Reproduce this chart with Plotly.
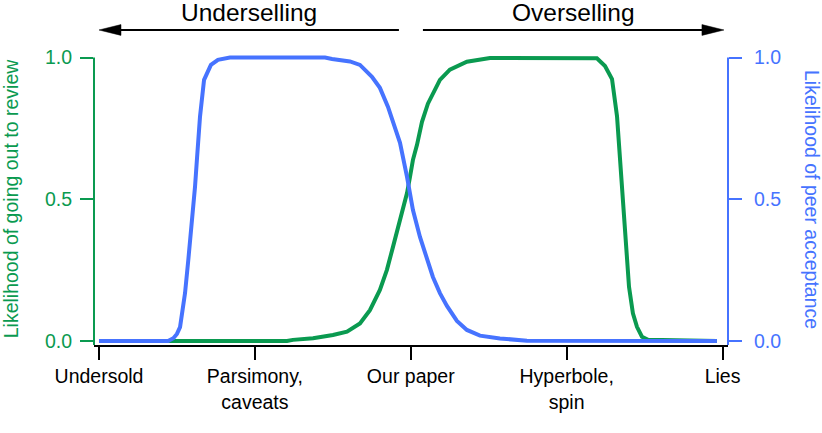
import plotly.graph_objects as go

# ---- data ----
categories = ["Undersold", "Parsimony,<br>caveats", "Our paper", "Hyperbole,<br>spin", "Lies"]
category_pos = [0, 1, 2, 3, 4]

# Likelihood of going out to review (left axis, green)
review_x = [0.0, 1.206, 1.244, 1.373, 1.501, 1.591, 1.674, 1.738, 1.802, 1.847, 1.886,
            1.931, 1.976, 1.995, 2.014, 2.040, 2.072, 2.110, 2.155, 2.187, 2.251, 2.360,
            2.508, 3.130, 3.194, 3.246, 3.291, 3.323, 3.342, 3.361, 3.387, 3.400, 3.425,
            3.451, 3.483, 3.522, 3.964]
review_y = [0.0, 0.0, 0.004, 0.010, 0.021, 0.033, 0.062, 0.109, 0.180, 0.251, 0.332,
            0.427, 0.522, 0.579, 0.639, 0.692, 0.773, 0.837, 0.886, 0.921, 0.957, 0.985,
            0.998, 1.0, 0.997, 0.970, 0.924, 0.793, 0.652, 0.476, 0.296, 0.191, 0.098,
            0.050, 0.015, 0.004, 0.0]

# Likelihood of peer acceptance (right axis, blue)
accept_x = [0.0, 0.443, 0.477, 0.500, 0.520, 0.532, 0.552, 0.573, 0.595, 0.616, 0.629,
            0.648, 0.674, 0.718, 0.763, 0.840, 1.450, 1.495, 1.610, 1.674, 1.751, 1.802,
            1.854, 1.911, 1.931, 1.976, 2.014, 2.059, 2.104, 2.142, 2.187, 2.232, 2.296,
            2.360, 2.444, 2.572, 2.745, 3.964]
accept_y = [0.0, 0.0, 0.010, 0.025, 0.049, 0.088, 0.169, 0.286, 0.402, 0.544, 0.646,
            0.791, 0.921, 0.974, 0.992, 1.0, 1.0, 0.995, 0.986, 0.974, 0.932, 0.893,
            0.826, 0.734, 0.699, 0.579, 0.462, 0.367, 0.286, 0.226, 0.169, 0.124, 0.071,
            0.039, 0.019, 0.009, 0.001, 0.0]

y_ticks = [0, 0.5, 1.0]
left_title = "Likelihood of going out to review"
right_title = "Likelihood of peer acceptance"
left_section = "Underselling"
right_section = "Overselling"

GREEN = "#0a9a50"
BLUE = "#4673ff"
FONT = "Liberation Sans, Arial, Helvetica, sans-serif"
FS = 19.5

x_range = [-0.032, 4.035]
y_range = [-0.0141, 1.0159]

fig = go.Figure()
fig.add_trace(go.Scatter(x=accept_x, y=accept_y, mode="lines", yaxis="y2",
                         line=dict(color=BLUE, width=4), showlegend=False, hoverinfo="skip"))
fig.add_trace(go.Scatter(x=review_x, y=review_y, mode="lines", yaxis="y",
                         line=dict(color=GREEN, width=4), showlegend=False, hoverinfo="skip"))

arrow_y = 1.0788
shapes = [
    # y-axis lines (stop at 1.0)
    dict(type="line", xref="paper", yref="y", x0=0, x1=0, y0=y_range[0], y1=1.0,
         line=dict(color=GREEN, width=2)),
    dict(type="line", xref="paper", yref="y", x0=1, x1=1, y0=y_range[0], y1=1.0,
         line=dict(color=BLUE, width=2)),
    # section arrows
    dict(type="line", xref="x", yref="paper", x0=1.924, x1=0.10, y0=arrow_y, y1=arrow_y,
         line=dict(color="black", width=2)),
    dict(type="path", xref="x", yref="paper", xsizemode="pixel", ysizemode="pixel",
         xanchor=0.0, yanchor=arrow_y, path="M0,0 L22,5.4 L22,-5.4 Z",
         fillcolor="black", line=dict(color="black", width=0.5)),
    dict(type="line", xref="x", yref="paper", x0=2.078, x1=3.90, y0=arrow_y, y1=arrow_y,
         line=dict(color="black", width=2)),
    dict(type="path", xref="x", yref="paper", xsizemode="pixel", ysizemode="pixel",
         xanchor=4.009, yanchor=arrow_y, path="M0,0 L-22,5.4 L-22,-5.4 Z",
         fillcolor="black", line=dict(color="black", width=0.5)),
]

annotations = [
    dict(text=left_section, xref="x", yref="paper", x=0.962, y=1.137, showarrow=False,
         xanchor="center", yanchor="middle", font=dict(size=24.5, color="black", family=FONT)),
    dict(text=right_section, xref="x", yref="paper", x=3.044, y=1.137, showarrow=False,
         xanchor="center", yanchor="middle", font=dict(size=24.5, color="black", family=FONT)),
    dict(text=right_title, xref="paper", yref="paper", x=1, y=0.5, xshift=84, showarrow=False,
         textangle=90, xanchor="center", yanchor="middle",
         font=dict(size=FS, color=BLUE, family=FONT)),
]

fig.update_layout(
    template="none",
    width=822, height=433,
    margin=dict(l=94, r=94, t=53, b=88, autoexpand=False),
    paper_bgcolor="white", plot_bgcolor="white",
    font=dict(family=FONT, size=FS, color="black"),
    showlegend=False,
    shapes=shapes,
    annotations=annotations,
    xaxis=dict(range=x_range, tickvals=category_pos, ticktext=categories,
               showline=True, linecolor="black", linewidth=2,
               ticks="outside", ticklen=13, tickwidth=2, tickcolor="black",
               showgrid=False, zeroline=False, automargin=False,
               tickfont=dict(size=FS, color="black", family=FONT)),
    yaxis=dict(range=y_range, tickvals=y_ticks, tickformat=".1f",
               showline=False, ticks="outside", ticklen=13, tickwidth=2, tickcolor=GREEN,
               ticklabelstandoff=4,
               tickfont=dict(size=FS, color=GREEN, family=FONT),
               showgrid=False, zeroline=False, automargin=False,
               title=dict(text=left_title, font=dict(size=FS, color=GREEN, family=FONT),
                          standoff=22)),
    yaxis2=dict(range=y_range, tickvals=y_ticks, tickformat=".1f", overlaying="y",
                side="right", anchor="x",
                showline=False, ticks="outside", ticklen=13, tickwidth=2, tickcolor=BLUE,
                ticklabelstandoff=8,
                tickfont=dict(size=FS, color=BLUE, family=FONT),
                showgrid=False, zeroline=False, automargin=False),
)

# remove the browser's default 8px body margin so the figure fills the window
fig.write_html("out.html", config={"displayModeBar": False},
               post_script="document.body.style.margin='0px';")
